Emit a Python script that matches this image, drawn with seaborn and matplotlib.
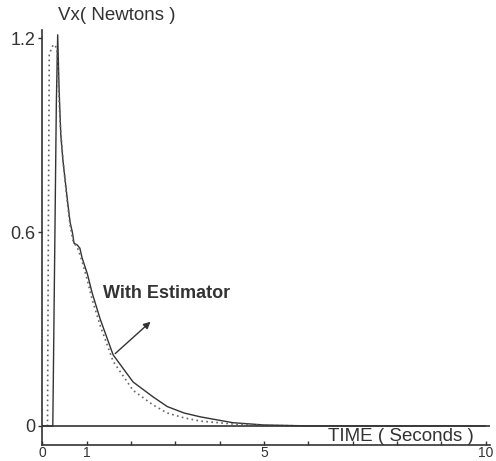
import numpy as np
import pandas as pd
import matplotlib
matplotlib.use("Agg")
import matplotlib.pyplot as plt
import seaborn as sns

# ---- data ----
time_measured = [0, 0.24, 0.28, 0.32, 0.35, 0.38, 0.42, 0.47, 0.56, 0.63, 0.68, 0.72,
                 0.79, 0.85, 0.90, 1.02, 1.13, 1.31, 1.60, 2.05, 2.50, 2.82, 3.20,
                 3.57, 4.30, 5.00, 6.00, 8.00, 10.0]
force_measured = [0, 0, 0.50, 1.00, 1.21, 1.05, 0.90, 0.82, 0.71, 0.63, 0.60, 0.565,
                  0.56, 0.55, 0.52, 0.47, 0.41, 0.33, 0.22, 0.136, 0.09, 0.06, 0.04,
                  0.028, 0.01, 0.003, 0, 0, 0]

time_estimator = [0, 0.12, 0.14, 0.16, 0.25, 0.33, 0.40, 0.47, 0.56, 0.63, 0.70, 0.80,
                  0.90, 1.02, 1.13, 1.31, 1.60, 2.05, 2.50, 2.82, 3.20, 3.57, 4.30,
                  5.00, 6.00, 8.00, 10.0]
force_estimator = [0, 0, 0.60, 1.15, 1.18, 1.17, 0.95, 0.82, 0.70, 0.62, 0.57, 0.55,
                   0.51, 0.45, 0.39, 0.31, 0.20, 0.11, 0.065, 0.04, 0.025, 0.015, 0.006,
                   0.002, 0, 0, 0]

y_ticks = [0, 0.6, 1.2]
y_tick_labels = ["0", "0.6", "1.2"]
x_ticks = [0, 1, 2, 3, 4, 5, 6, 7, 8, 9, 10]
x_tick_labels = ["0", "1", "", "", "", "5", "", "", "", "", "10"]

sns.set_style("ticks")
plt.rcParams["font.family"] = ["Liberation Sans", "DejaVu Sans"]

df_m = pd.DataFrame({"t": time_measured, "f": force_measured})
df_e = pd.DataFrame({"t": time_estimator, "f": force_estimator})

fig = plt.figure(figsize=(4.96, 4.61), dpi=100)
# bottom spine at ~445 px, top at ~30 px
ax = fig.add_axes([0.085, 16 / 461, 0.903, (445 - 30) / 461])

sns.lineplot(data=df_m, x="t", y="f", ax=ax, color="#333333", lw=1.0,
             estimator=None, sort=False)
sns.lineplot(data=df_e, x="t", y="f", ax=ax, color="#666666", lw=1.2,
             linestyle=(0, (1, 2)), estimator=None, sort=False)

ax.axhline(0, color="#333333", lw=1.2)

ax.set_xlim(0, 10.1)
ax.set_ylim(-0.059, 1.225)
ax.set_xlabel("")
ax.set_ylabel("")

for s in ["top", "right"]:
    ax.spines[s].set_visible(False)
for s in ["left", "bottom"]:
    ax.spines[s].set_color("#333333")
    ax.spines[s].set_linewidth(1.2)

ax.set_yticks(y_ticks)
ax.set_yticklabels(y_tick_labels, fontsize=13, color="#333333")
ax.set_xticks(x_ticks)
ax.set_xticklabels(x_tick_labels, fontsize=10, color="#333333")
ax.tick_params(axis="y", direction="out", length=3, width=1, pad=2, colors="#333333")
ax.tick_params(axis="x", direction="in", length=3, width=1, pad=1, colors="#333333")

ax.text(0.36, 1.27, "Vx( Newtons )", fontsize=13.5, color="#333333",
        va="center", ha="left", clip_on=False)
ax.text(6.44, -0.006, "TIME ( Seconds )", fontsize=13.5, color="#333333",
        va="top", ha="left")
ax.text(1.37, 0.41, "With Estimator", fontsize=13, color="#333333",
        va="center", ha="left", fontweight="bold")
ax.annotate("", xy=(2.49, 0.328), xytext=(1.6, 0.218),
            arrowprops=dict(arrowstyle="-|>", color="#333333", lw=1.0,
                            mutation_scale=10))

fig.savefig("out.png", dpi=100)
